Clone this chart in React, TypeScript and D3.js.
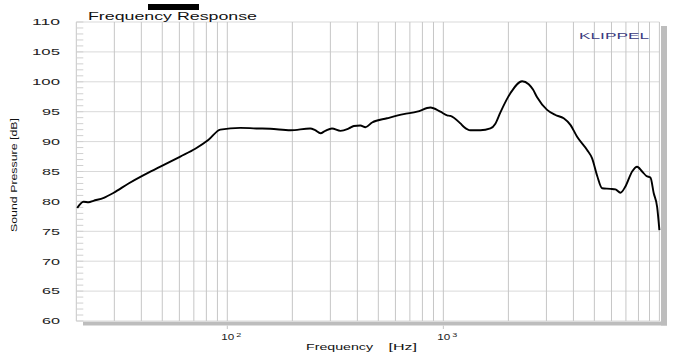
import React from "react";
import * as d3 from "d3";

const freqHz = [20.2, 21.6, 22.8, 24.0, 26.8, 29.8, 34.9, 41.0, 49.0, 60.6, 71.1, 81.9, 92.8, 114.9, 136, 158, 196, 242, 255, 270, 284, 305, 334, 365, 385, 413, 436, 468, 549, 655, 756, 871, 969, 1041, 1078, 1199, 1242, 1334, 1484, 1651, 1741, 1837, 2043, 2315, 2483, 2600, 2716, 3021, 3301, 3606, 3873, 4160, 4628, 4882, 5150, 5432, 5934, 6260, 6602, 6963, 7478, 7886, 8318, 8709, 9089, 9415, 9760, 10000];
const splDb = [78.9, 79.95, 79.85, 80.1, 80.6, 81.45, 83.0, 84.4, 85.8, 87.5, 88.8, 90.3, 92.0, 92.3, 92.2, 92.15, 91.9, 92.2, 91.9, 91.4, 91.8, 92.2, 91.8, 92.2, 92.6, 92.7, 92.4, 93.2, 93.9, 94.6, 95.0, 95.7, 95.0, 94.4, 94.3, 93.05, 92.5, 91.9, 91.9, 92.2, 93.0, 94.9, 98.1, 100.1, 99.6, 98.7, 97.4, 95.3, 94.45, 93.9, 92.8, 90.8, 88.6, 87.2, 84.3, 82.2, 82.1, 82.0, 81.45, 82.5, 85.0, 85.8, 85.0, 84.25, 84.0, 81.35, 79.1, 75.2];

const yTicks = [60, 65, 70, 75, 80, 85, 90, 95, 100, 105, 110];
const xGrid = [20, 30, 40, 50, 60, 70, 80, 90, 100, 200, 300, 400, 500, 600, 700, 800, 900, 1000, 2000, 3000, 4000, 5000, 6000, 7000, 8000, 9000, 10000];
const xLabels = [{ v: 100, exp: "2" }, { v: 1000, exp: "3" }];

const FONT = "'Liberation Sans', Arial, sans-serif";

export default function App() {
  const x = d3.scaleLog().domain([20, 10000]).range([76.3, 659.4]);
  const y = d3.scaleLinear().domain([60, 110]).range([321, 22]);
  const pts: [number, number][] = freqHz.map((f, i) => [x(f), y(splDb[i])]);
  const line = d3.line().curve(d3.curveMonotoneX)(pts) || "";
  const minor = d3.range(60, 111, 1);
  const [x0, x1] = x.range();
  const [yb, yt] = y.range();
  return (
    <svg width={695} height={352} style={{ position: "absolute", left: 0, top: 0, background: "#fff" }} fontFamily={FONT}>
      {/* shadow */}
      <rect x={83} y={321.5} width={584} height={4} fill="#bdbdbd" />
      <rect x={661} y={26} width={6} height={299.5} fill="#bdbdbd" />
      <rect x={x0} y={yt} width={x1 - x0} height={yb - yt} fill="#fff" />
      {/* horizontal grid */}
      {yTicks.map((t) => (
        <line key={"h" + t} x1={x0} x2={x1} y1={y(t)} y2={y(t)} stroke="#d9d9d9" strokeWidth={1} />
      ))}
      {/* vertical grid */}
      {xGrid.map((g) => (
        <line key={"v" + g} x1={x(g)} x2={x(g)} y1={yt} y2={yb} stroke="#c6c6c6" strokeWidth={1} />
      ))}
      {/* minor y ticks */}
      {minor.map((m) => (
        <line key={"m" + m} x1={x0} x2={x0 + 7} y1={y(m)} y2={y(m)} stroke="#d0d0d0" strokeWidth={1} />
      ))}
      {/* ticks below */}
      {xLabels.map((l) => (
        <line key={"t" + l.v} x1={x(l.v)} x2={x(l.v)} y1={325.5} y2={329} stroke="#c6c6c6" />
      ))}
      {/* curve */}
      <path d={line} fill="none" stroke="#000" strokeWidth={1.9} strokeLinejoin="round" />
      {/* y labels */}
      {yTicks.map((t) => (
        <text key={"yl" + t} x={60} y={y(t) + 3.3} textAnchor="end" fontSize={9} fill="#222"
          textLength={String(t).length === 3 ? 28 : 18} lengthAdjust="spacingAndGlyphs">{t}</text>
      ))}
      {/* x labels */}
      {xLabels.map((l) => (
        <g key={"xl" + l.v}>
          <text x={x(l.v) - 6} y={339.5} fontSize={8.5} fill="#222" textLength={13} lengthAdjust="spacingAndGlyphs">10</text>
          <text x={x(l.v) + 9} y={337} fontSize={5.5} fill="#222" textLength={5} lengthAdjust="spacingAndGlyphs">{l.exp}</text>
        </g>
      ))}
      <text x={306} y={350} fontSize={9.5} fill="#111" textLength={67} lengthAdjust="spacingAndGlyphs">Frequency</text>
      <text x={388.5} y={350} fontSize={9.5} fill="#111" textLength={28.5} lengthAdjust="spacingAndGlyphs">[Hz]</text>
      <text transform="translate(17.3,175) rotate(-90)" textAnchor="middle" fontSize={9} fill="#111" textLength={114} lengthAdjust="spacingAndGlyphs">Sound Pressure [dB]</text>
      {/* title / legend */}
      <rect x={148} y={4} width={51} height={6} fill="#000" />
      <text x={88} y={20} fontSize={10.5} fill="#111" textLength={169} lengthAdjust="spacingAndGlyphs">Frequency Response</text>
      <text x={579} y={38.7} fontSize={8.5} fill="#3b3b80" textLength={70} lengthAdjust="spacingAndGlyphs">KLIPPEL</text>
    </svg>
  );
}
